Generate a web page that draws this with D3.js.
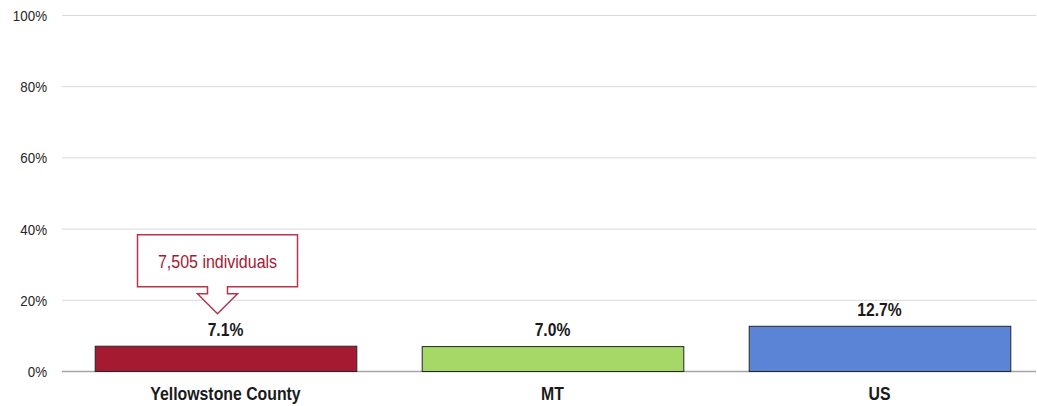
<!DOCTYPE html>
<html><head><meta charset="utf-8">
<script src="https://cdn.jsdelivr.net/npm/d3@7"></script>
<style>body{margin:0;background:#fff}svg{display:block}</style>
</head><body><svg id="c" width="1037" height="406"></svg>
<script>
const categories = ["Yellowstone County", "MT", "US"];
const values = [7.1, 7.0, 12.7];
const colors = ["#a51931", "#a5d867", "#5b84d6"];
const tickValues = [0, 20, 40, 60, 80, 100];
const calloutText = "7,505 individuals";

(function () {
const svg = d3.select("#c");
const font = "'Liberation Sans Narrow','Arial Narrow','Liberation Sans',Arial,sans-serif";
const y = d3.scaleLinear().domain([0, 100]).range([371, 15]);
const x = d3.scaleBand().domain(categories).range([62, 1043]).paddingInner(0.2).paddingOuter(0.1);
const gridRight = 1036;
const narrow = (px, py, s) => `translate(${px},${py}) scale(${s},1)`;

// grid
svg.append("g").selectAll("line").data(tickValues).join("line")
  .attr("x1", 62).attr("x2", gridRight)
  .attr("y1", d => y(d) + 0.5).attr("y2", d => y(d) + 0.5)
  .attr("stroke", d => d === 0 ? "#a6a6a6" : "#d9d9d9").attr("stroke-width", d => d === 0 ? 1.5 : 1);

// y tick labels
svg.append("g").selectAll("text").data(tickValues).join("text")
  .attr("transform", d => narrow(47, y(d) + 6, 0.89))
  .attr("text-anchor", "end").attr("font-family", font).attr("font-size", 15).attr("fill", "#262626")
  .text(d => d + "%");

// bars
svg.append("g").selectAll("rect").data(values).join("rect")
  .attr("x", (d, i) => x(categories[i]) + 0.5)
  .attr("y", d => y(d) + 0.5)
  .attr("width", x.bandwidth())
  .attr("height", d => y(0) - y(d))
  .attr("fill", (d, i) => colors[i])
  .attr("stroke", "#262626").attr("stroke-width", 1);

// value labels
svg.append("g").selectAll("text").data(values).join("text")
  .attr("transform", (d, i) => narrow(x(categories[i]) + x.bandwidth() / 2, y(d) - 10, 0.87))
  .attr("text-anchor", "middle").attr("font-family", font).attr("font-weight", "bold")
  .attr("font-size", 18).attr("fill", "#1a1a1a")
  .text(d => d.toFixed(1) + "%");

// category labels
svg.append("g").selectAll("text").data(categories).join("text")
  .attr("transform", d => narrow(x(d) + x.bandwidth() / 2, 400, 0.88))
  .attr("text-anchor", "middle").attr("font-family", font).attr("font-weight", "bold")
  .attr("font-size", 18).attr("fill", "#1a1a1a")
  .text(d => d);

// callout
const cx = x(categories[0]) + x.bandwidth() / 2 - 8;
const tipY = y(values[0]) - 32;
const bTop = tipY - 79, bBot = tipY - 27, bLeft = cx - 80, bRight = cx + 80;
const headY = tipY - 20, neck = 10, wing = 20;
const pts = [
  [bLeft, bTop], [bRight, bTop], [bRight, bBot], [cx + neck, bBot], [cx + neck, headY],
  [cx + wing, headY], [cx, tipY], [cx - wing, headY], [cx - neck, headY], [cx - neck, bBot],
  [bLeft, bBot]
];
svg.append("path")
  .attr("d", d3.line()(pts) + "Z")
  .attr("fill", "#fff").attr("stroke", "#b5364c").attr("stroke-width", 1.5);
svg.append("text")
  .attr("transform", narrow(cx, (bTop + bBot) / 2 + 7, 0.89))
  .attr("text-anchor", "middle").attr("font-family", font).attr("font-size", 18).attr("fill", "#a51931")
  .text(calloutText);
})();
</script></body></html>
